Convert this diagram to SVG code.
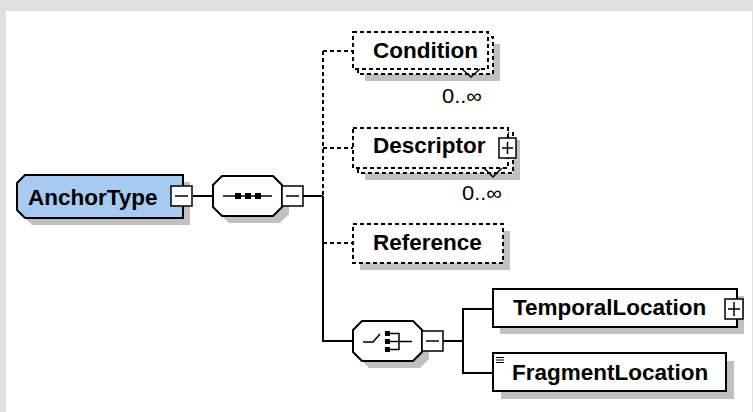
<svg xmlns="http://www.w3.org/2000/svg" width="753" height="412" viewBox="0 0 753 412">
<style>
.ln{stroke:#000;stroke-width:2;fill:none}
.dl{stroke:#000;stroke-width:2;fill:none;stroke-dasharray:4 3}
.box{fill:#fff;stroke:#000;stroke-width:2}
.dbox{fill:#fff;stroke:#000;stroke-width:2;stroke-dasharray:4 3}
.sh{fill:#c0c0c0}
.t{font-family:"Liberation Sans",Arial,sans-serif;font-weight:bold;font-size:22.5px;fill:#000}
.c{font-family:"Liberation Sans",Arial,sans-serif;font-size:20px;fill:#000}
.btn{fill:#fff;stroke:#000;stroke-width:1.5}
.sg{stroke:#000;stroke-width:1.5;fill:none}
</style>
<rect x="0" y="0" width="753" height="412" fill="#e0e0e0"/>
<rect x="6" y="11" width="746" height="401" fill="#fff"/>

<g id="connectors">
<line class="ln" x1="193" y1="196" x2="213" y2="196"/>
<line class="ln" x1="303" y1="196" x2="323" y2="196"/>
<line class="dl" x1="323" y1="51" x2="323" y2="196"/>
<line class="ln" x1="323" y1="196" x2="323" y2="342"/>
<line class="dl" x1="323" y1="51" x2="353" y2="51"/>
<line class="dl" x1="323" y1="148" x2="353" y2="148"/>
<line class="dl" x1="323" y1="243" x2="353" y2="243"/>
<line class="ln" x1="322" y1="341" x2="353" y2="341"/>
<line class="ln" x1="443" y1="341" x2="463" y2="341"/>
<line class="ln" x1="463" y1="308" x2="463" y2="374"/>
<line class="ln" x1="462" y1="309" x2="493" y2="309"/>
<line class="ln" x1="462" y1="373" x2="493" y2="373"/>
</g>

<g id="AnchorType">
<path class="sh" d="M32,182 L190,182 L190,225 L32,225 L24,217 L24,190 Z"/>
<path d="M25,175 L183,175 L183,218 L25,218 L17,210 L17,183 Z" fill="#a6caf0" stroke="#000" stroke-width="2"/>
<text class="t" x="28" y="205">AnchorType</text>
<rect class="btn" x="171" y="186" width="21" height="20"/>
<line class="sg" x1="175" y1="196" x2="188" y2="196"/>
</g>

<g id="sequence">
<path class="sh" d="M229,183 L280,183 L289,192 L289,214 L280,223 L229,223 L220,214 L220,192 Z"/>
<path class="box" d="M222,176 L273,176 L282,185 L282,207 L273,216 L222,216 L213,207 L213,185 Z"/>
<line class="sg" x1="223" y1="196" x2="272" y2="196"/>
<rect x="235" y="193" width="6" height="6" fill="#000"/>
<rect x="245" y="193" width="6" height="6" fill="#000"/>
<rect x="255" y="193" width="6" height="6" fill="#000"/>
<rect class="btn" x="282" y="186" width="21" height="20"/>
<line class="sg" x1="286" y1="196" x2="299" y2="196"/>
</g>

<g id="Condition">
<rect class="sh" x="365" y="44" width="135" height="37"/>
<rect class="dbox" x="358" y="37" width="135" height="37"/>
<rect class="dbox" x="353" y="32" width="135" height="37"/>
<polyline class="sg" points="462,69 471,77 480,69"/>
<text class="t" x="373" y="58">Condition</text>
<text class="c" x="442" y="103" textLength="40" lengthAdjust="spacingAndGlyphs">0..∞</text>
</g>

<g id="Descriptor">
<rect class="sh" x="365" y="140" width="155" height="40"/>
<rect class="dbox" x="358" y="133" width="155" height="40"/>
<rect class="dbox" x="353" y="128" width="155" height="40"/>
<polyline class="sg" points="484,168 493,177 502,168"/>
<text class="t" x="373" y="153">Descriptor</text>
<rect class="btn" x="499" y="138" width="17" height="20"/>
<line class="sg" x1="502" y1="148" x2="513" y2="148"/>
<line class="sg" x1="507.5" y1="142" x2="507.5" y2="154"/>
<text class="c" x="462" y="200" textLength="40" lengthAdjust="spacingAndGlyphs">0..∞</text>
</g>

<g id="Reference">
<rect class="sh" x="360" y="231" width="150" height="39"/>
<rect class="dbox" x="353" y="224" width="150" height="39"/>
<text class="t" x="373" y="250">Reference</text>
</g>

<g id="choice">
<path class="sh" d="M369,328 L420,328 L429,337 L429,359 L420,368 L369,368 L360,359 L360,337 Z"/>
<path class="box" d="M362,321 L413,321 L422,330 L422,352 L413,361 L362,361 L353,352 L353,330 Z"/>
<polyline class="sg" points="363,342 373,342 380,334"/>
<rect x="385" y="331" width="5" height="5" fill="#000"/>
<rect x="385" y="339" width="5" height="5" fill="#000"/>
<rect x="385" y="347" width="5" height="5" fill="#000"/>
<polyline class="sg" points="390,333.5 399,333.5 399,349.5 390,349.5"/>
<line class="sg" x1="390" y1="341.5" x2="412" y2="341.5"/>
<rect class="btn" x="422" y="331" width="21" height="20"/>
<line class="sg" x1="426" y1="341" x2="439" y2="341"/>
</g>

<g id="TemporalLocation">
<rect class="sh" x="500" y="296" width="244" height="38"/>
<rect class="box" x="493" y="289" width="244" height="38"/>
<text class="t" x="513" y="315">TemporalLocation</text>
<rect class="btn" x="725" y="299" width="18" height="20"/>
<line class="sg" x1="728" y1="309" x2="740" y2="309"/>
<line class="sg" x1="734" y1="302" x2="734" y2="316"/>
</g>

<g id="FragmentLocation">
<rect class="sh" x="501" y="361" width="233" height="38"/>
<rect class="box" x="493" y="353" width="233" height="38"/>
<line stroke="#000" stroke-width="1" x1="496" y1="357.5" x2="504" y2="357.5"/>
<line stroke="#000" stroke-width="1" x1="496" y1="360" x2="504" y2="360"/>
<line stroke="#000" stroke-width="1" x1="496" y1="362.5" x2="504" y2="362.5"/>
<text class="t" x="512" y="380">FragmentLocation</text>
</g>
</svg>
